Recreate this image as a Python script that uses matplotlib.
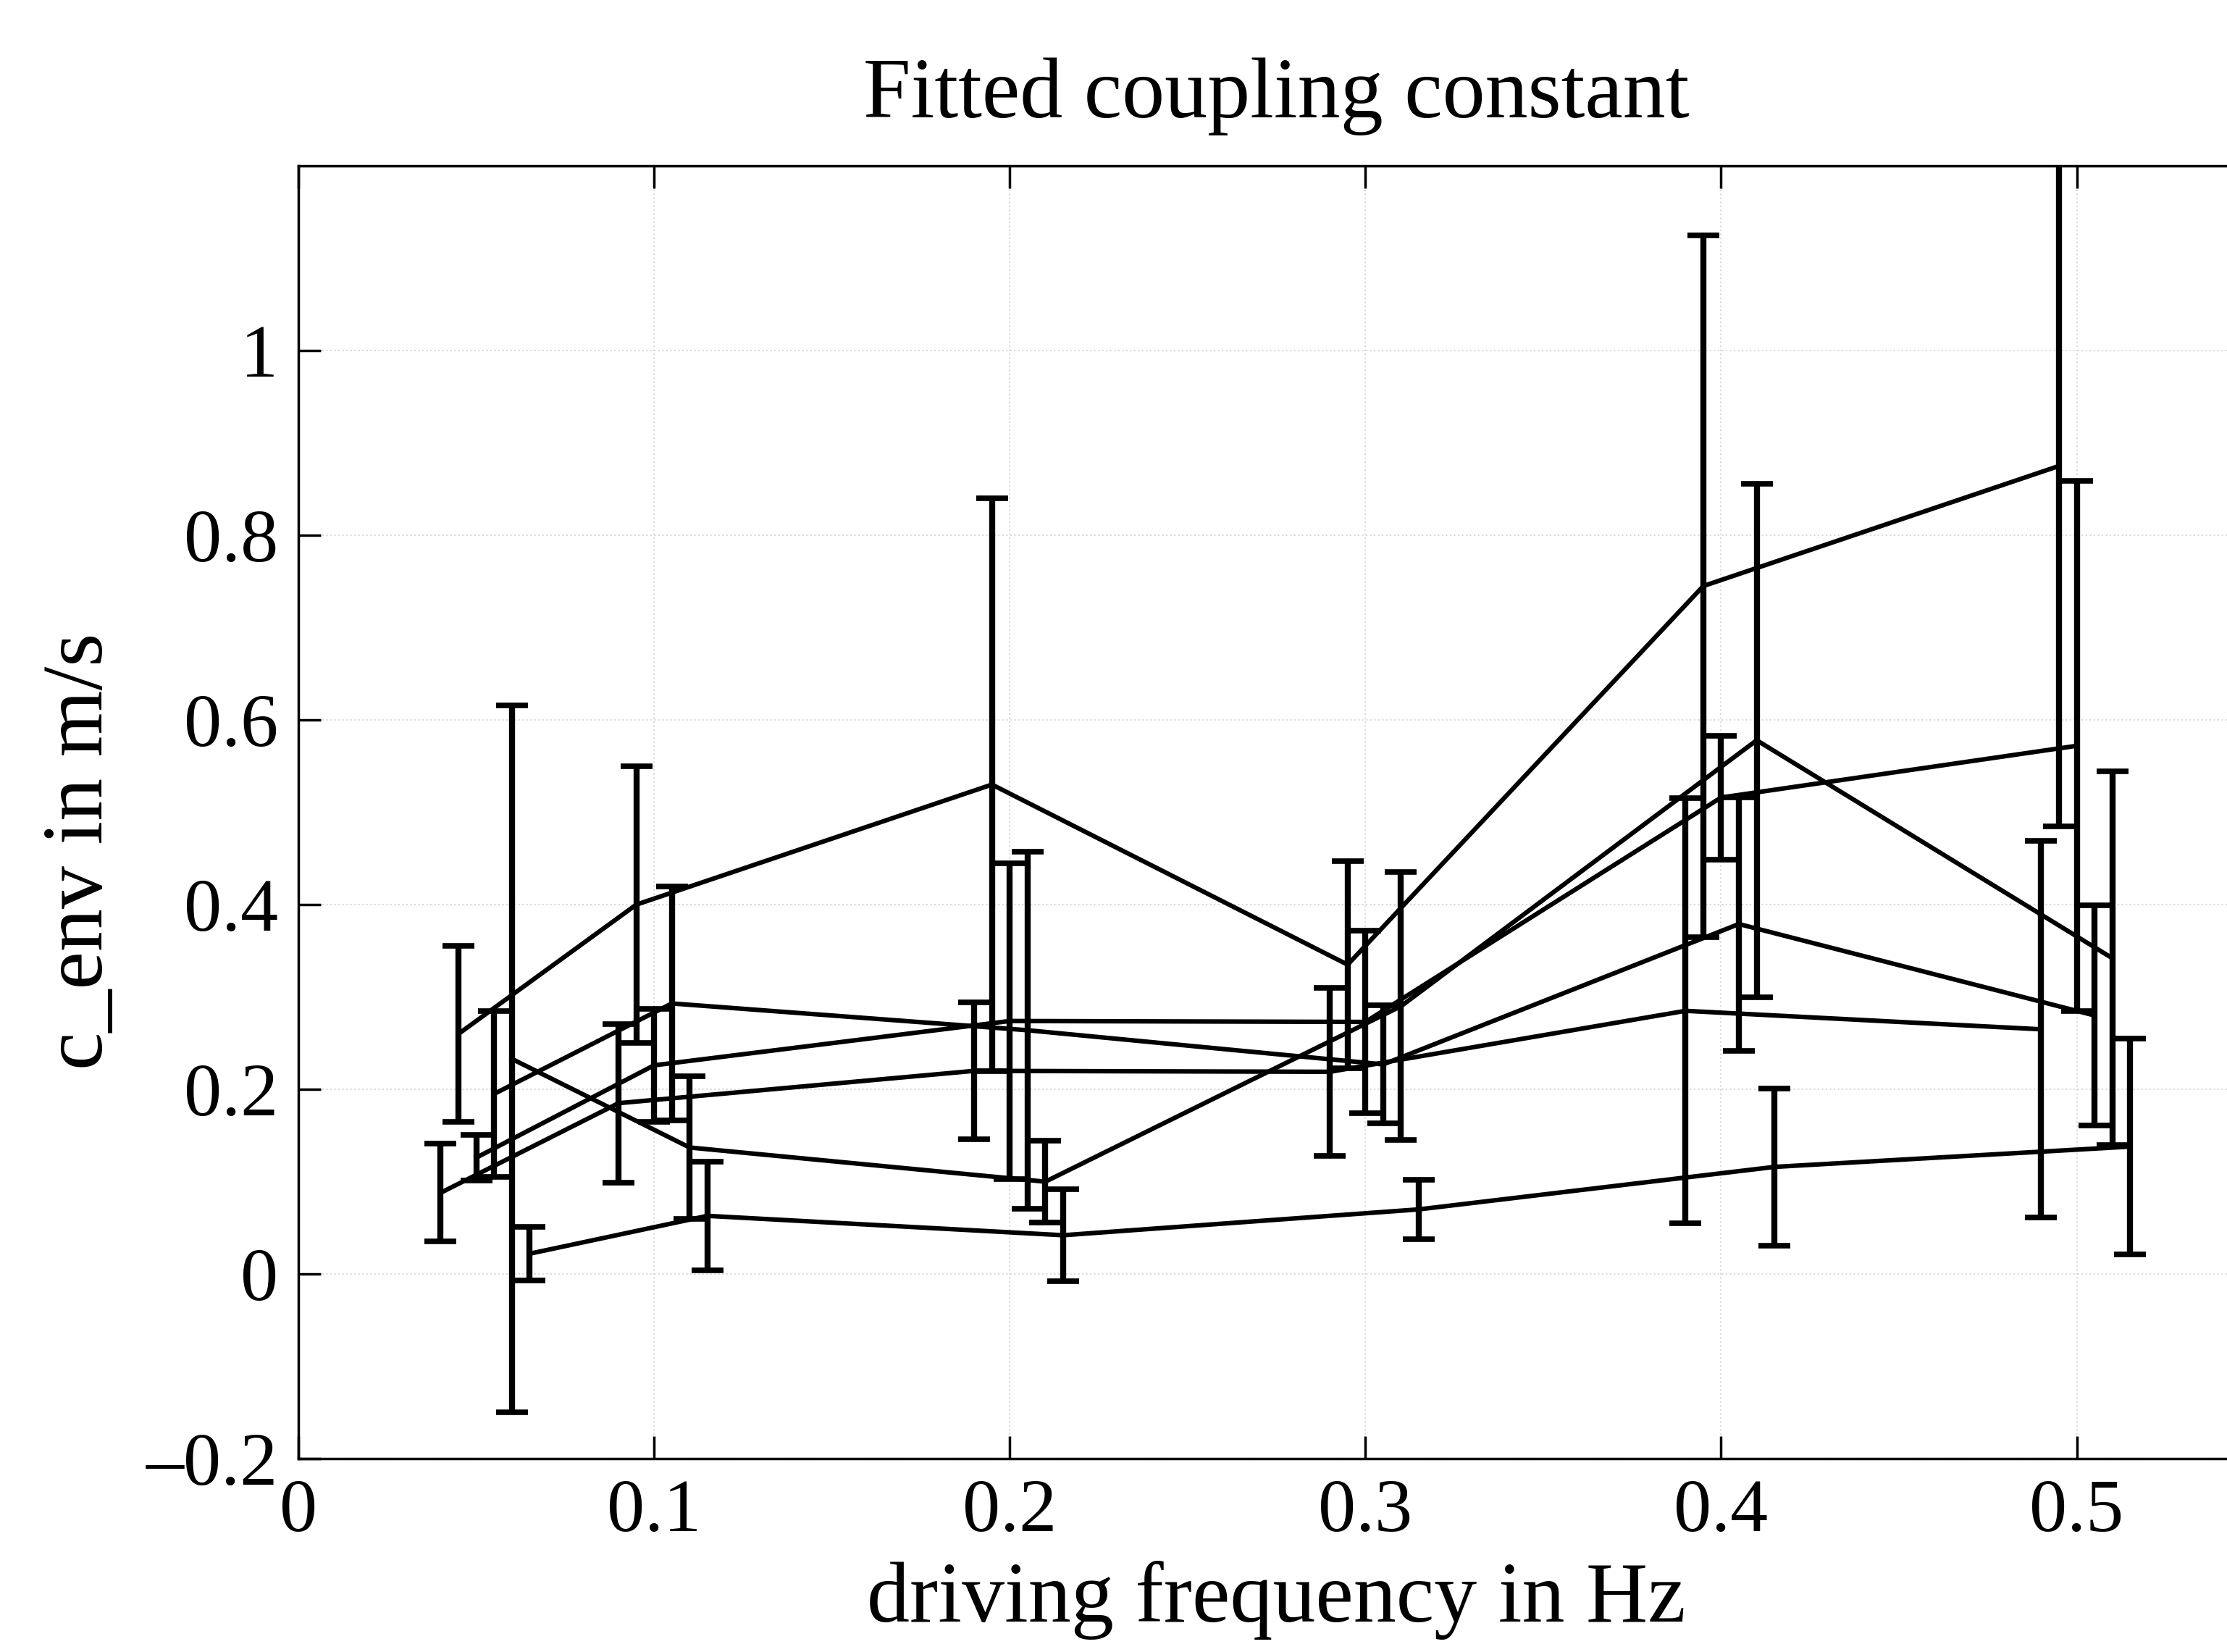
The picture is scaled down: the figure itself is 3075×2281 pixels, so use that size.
import numpy as np
import matplotlib.pyplot as plt
from matplotlib.ticker import FuncFormatter

# driving frequencies (Hz) and the small sideways shift of each run
freqs = np.array([0.05, 0.1, 0.2, 0.3, 0.4, 0.5])
shifts = [-0.010, -0.005, 0.0, 0.005, 0.010, 0.015]

# fitted c_env (m/s) per run and its error
c_env = [
    [0.088, 0.185, 0.220, 0.219, 0.285, 0.265],
    [0.260, 0.400, 0.530, 0.335, 0.745, 0.875],
    [0.126, 0.226, 0.274, 0.273, 0.516, 0.572],
    [0.195, 0.293, 0.264, 0.227, 0.379, 0.280],
    [0.233, 0.137, 0.100, 0.290, 0.578, 0.342],
    [0.022, 0.063, 0.042, 0.070, 0.116, 0.138],
]
c_err = [
    [0.053, 0.086, 0.074, 0.091, 0.230, 0.204],
    [0.095, 0.150, 0.310, 0.112, 0.380, 0.390],
    [0.025, 0.061, 0.171, 0.099, 0.067, 0.287],
    [0.090, 0.127, 0.193, 0.064, 0.137, 0.119],
    [0.383, 0.077, 0.044, 0.145, 0.278, 0.202],
    [0.029, 0.059, 0.050, 0.032, 0.085, 0.117],
]

xticks = [0, 0.1, 0.2, 0.3, 0.4, 0.5]
yticks = [-0.2, 0, 0.2, 0.4, 0.6, 0.8, 1.0]

plt.rcParams['font.family'] = ['Liberation Serif', 'DejaVu Serif']
fontsize = 75


def tick_fmt(v, pos):
    return ("%g" % v).replace("-", "\u2013")


fig = plt.figure(figsize=(30.75, 22.81), dpi=100)
ax = fig.add_axes([0.134, 0.117, 0.8784, 0.7826])

for k in range(len(c_env)):
    ax.errorbar(freqs + shifts[k], c_env[k], yerr=c_err[k], color="black",
                linewidth=4.5, elinewidth=6, capsize=16, capthick=5.5)

ax.set_xlim(0, 0.55)
ax.set_ylim(-0.2, 1.2)
ax.set_xticks(xticks)
ax.set_yticks(yticks)
ax.xaxis.set_major_formatter(FuncFormatter(tick_fmt))
ax.yaxis.set_major_formatter(FuncFormatter(tick_fmt))
ax.tick_params(direction="in", length=22, width=2.5, top=True, right=True,
               labelsize=fontsize, pad=20)
for s in ax.spines.values():
    s.set_linewidth(2.5)
ax.grid(True, linestyle=":", color="0.85", linewidth=1.5)

ax.set_title("Fitted coupling constant", fontsize=85, pad=48)
ax.set_xlabel("driving frequency in Hz", fontsize=85, labelpad=14)
ax.set_ylabel("c_env in m/s", fontsize=85)
ax.yaxis.set_label_coords(-0.091, 0.47)

plt.savefig("out.png", dpi=100)
